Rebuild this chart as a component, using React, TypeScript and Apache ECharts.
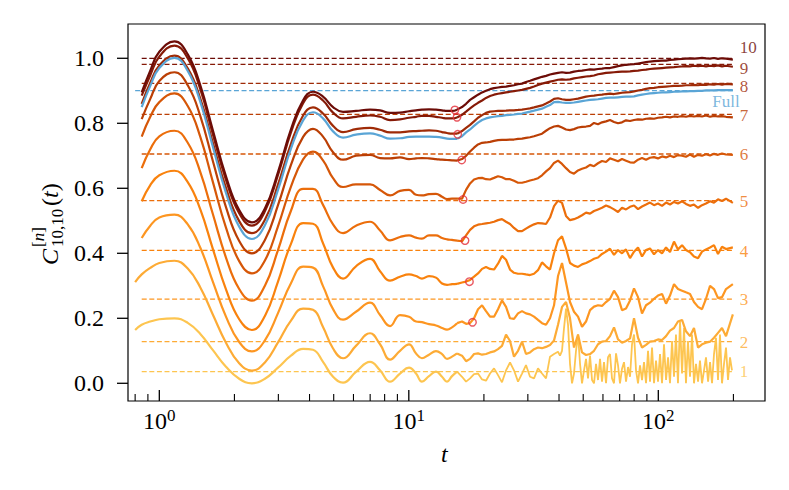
import React, { useEffect, useRef } from 'react';
import * as echarts from 'echarts';

// shared time grid (t)
const T = [
  0.8, 0.85, 0.92, 1.0, 1.15, 1.3, 1.46, 1.64, 1.85, 2.09, 2.35, 2.65, 2.99, 3.37, 3.77, 4.13, 4.53, 4.97, 5.45,
  6.14, 6.99, 7.67, 8.41, 9.22, 10.02, 10.69, 11.29, 12.05, 12.85, 13.59, 14.23, 14.9, 15.61,
  16.34, 16.96, 17.6, 18.26, 18.94, 19.66, 20.39, 21.16, 21.96, 22.78, 23.63, 24.53, 25.45, 26.4, 27.4, 28.43,
  29.49, 30.61, 31.76, 32.95, 34.19, 35.48, 36.81, 38.2, 39.63, 41.12, 42.67, 44.27, 45.93, 47.67, 49.46, 51.32,
  53.25, 55.25, 57.33, 59.48, 61.72, 64.04, 66.45, 68.95, 71.54, 74.23, 77.03, 79.92, 82.93, 86.05, 89.29, 92.62,
  96.12, 99.7, 103.5, 107.4, 111.4, 115.6, 119.9, 124.5, 129.1, 134.0, 139.0, 144.3, 149.7, 155.3, 161.2, 167.2,
  173.5, 180.0, 186.8, 199,
];
const SPLIT_INDEX = 32; // last point of the smooth early part

// curve 1 is very noisy at late times: finer grid there
const T1_DENSE = [
  40.36, 41.12, 41.89, 42.67, 43.47, 44.27, 45.1, 45.93, 46.79, 47.67,
  48.56, 49.46, 50.38, 51.32, 52.28, 53.25, 54.25, 55.25, 56.28, 57.33,
  58.4, 59.48, 60.59, 61.72, 62.87, 64.04, 65.23, 66.45, 67.69, 68.95,
  70.23, 71.54, 72.87, 74.23, 75.62, 77.03, 78.46, 79.92, 81.41, 82.93,
  84.47, 86.05, 87.65, 89.29, 90.95, 92.64, 94.37, 96.12, 97.9, 99.72,
  101.6, 103.5, 105.4, 107.4, 109.4, 111.4, 113.5, 115.6, 117.7, 119.9,
  122.2, 124.5, 126.8, 129.1, 131.5, 134.0, 136.5, 139.0, 141.6, 144.3,
  146.9, 149.7, 152.5, 155.3, 158.3, 161.2, 164.2, 167.2, 170.3, 173.5,
  176.7, 180.0, 183.4, 186.8, 190.3, 193.8, 197.4,
];
const C1_DENSE = [
  0.085, 0.1, 0.17, 0.23, 0.18, 0.06, 0.0, 0.03, 0.1, 0.15,
  0.06, 0.0, 0.04, 0.075, 0.015, 0.085, 0.01, 0.0, 0.06, 0.01,
  0.075, 0.005, 0.065, 0.0, 0.08, 0.09, 0.015, 0.0, 0.092, 0.055,
  0.0, 0.045, 0.065, 0.005, 0.05, 0.02, 0.12, 0.15, 0.04, 0.0,
  0.055, 0.01, 0.065, 0.0, 0.1, 0.005, 0.11, 0.0, 0.07, 0.005,
  0.09, 0.0, 0.12, 0.01, 0.08, 0.0, 0.13, 0.02, 0.15, 0.0,
  0.19, 0.03, 0.17, 0.0, 0.13, 0.02, 0.15, 0.0, 0.06, 0.005,
  0.07, 0.0, 0.04, 0.08, 0.005, 0.065, 0.0, 0.09, 0.14, 0.01,
  0.15, 0.0, 0.06, 0.11, 0.01, 0.08, 0.04,
];

const C1 = [
  0.164, 0.18, 0.19, 0.197, 0.2, 0.186, 0.152, 0.102, 0.051, 0.014, 0.0, 0.014, 0.048, 0.085, 0.106, 0.103, 0.066, 0.02, 0.002,
  0.035, 0.066, 0.04, 0.005, 0.03, 0.048, 0.03, 0.005, 0.022, 0.036, 0.02, 0.005, 0.022, 0.036,
  0.02, 0.005, 0.015, 0.028, 0.03, 0.012, 0.008, 0.03, 0.046, 0.025, 0.003, 0.04, 0.064, 0.04, 0.005, 0.03,
  0.056, 0.02, 0.015, 0.046, 0.03, 0.015, 0.082, 0.09, 0.097,
];
const C2 = [
  0.311, 0.335, 0.355, 0.37, 0.377, 0.353, 0.295, 0.211, 0.125, 0.062, 0.039, 0.064, 0.126, 0.193, 0.23, 0.226, 0.173, 0.107, 0.077,
  0.115, 0.154, 0.12, 0.073, 0.1, 0.12, 0.092, 0.077, 0.088, 0.099, 0.09, 0.075, 0.082, 0.092,
  0.085, 0.068, 0.075, 0.09, 0.092, 0.088, 0.09, 0.095, 0.098, 0.105, 0.115, 0.15, 0.13, 0.082, 0.1, 0.128,
  0.09, 0.095, 0.105, 0.11, 0.108, 0.112, 0.118, 0.132, 0.18, 0.235, 0.25, 0.2, 0.11, 0.15, 0.095, 0.087,
  0.09, 0.1, 0.12, 0.128, 0.13, 0.145, 0.172, 0.135, 0.125, 0.13, 0.138, 0.2, 0.14, 0.11, 0.118, 0.128,
  0.13, 0.135, 0.133, 0.145, 0.162, 0.17, 0.19, 0.195, 0.16, 0.145, 0.17, 0.11, 0.12, 0.125, 0.128, 0.14,
  0.155, 0.17, 0.145, 0.212,
];
const C3 = [
  null, 0.447, 0.485, 0.51, 0.519, 0.489, 0.417, 0.312, 0.205, 0.127, 0.098, 0.132, 0.216, 0.308, 0.359, 0.356, 0.299, 0.228, 0.196,
  0.22, 0.248, 0.21, 0.176, 0.21, 0.205, 0.19, 0.188, 0.182, 0.178, 0.17, 0.165, 0.172, 0.185,
  0.19, 0.183, 0.185, 0.2, 0.228, 0.24, 0.222, 0.205, 0.205, 0.228, 0.255, 0.235, 0.2, 0.198, 0.215, 0.222,
  0.215, 0.212, 0.205, 0.195, 0.185, 0.18, 0.2, 0.24, 0.33, 0.37, 0.31, 0.25, 0.22, 0.205, 0.174, 0.19,
  0.225, 0.236, 0.24, 0.238, 0.25, 0.26, 0.285, 0.265, 0.225, 0.23, 0.255, 0.292, 0.265, 0.215, 0.24, 0.248,
  0.26, 0.27, 0.275, 0.245, 0.27, 0.305, 0.29, 0.285, 0.28, 0.275, 0.25, 0.235, 0.228, 0.26, 0.3, 0.29,
  0.262, 0.265, 0.29, 0.305,
];
const C4 = [
  null, 0.56, 0.61, 0.64, 0.654, 0.619, 0.535, 0.413, 0.289, 0.197, 0.164, 0.207, 0.313, 0.429, 0.493, 0.491, 0.431, 0.356, 0.322,
  0.36, 0.383, 0.345, 0.316, 0.328, 0.335, 0.33, 0.322, 0.33, 0.325, 0.307, 0.303, 0.305, 0.306,
  0.31, 0.313, 0.318, 0.328, 0.338, 0.352, 0.358, 0.352, 0.35, 0.368, 0.392, 0.38, 0.35, 0.34, 0.337, 0.337,
  0.335, 0.333, 0.337, 0.348, 0.372, 0.36, 0.35, 0.4, 0.44, 0.452, 0.415, 0.37, 0.362, 0.358, 0.366, 0.37,
  0.376, 0.383, 0.387, 0.398, 0.405, 0.414, 0.395, 0.41, 0.4, 0.412, 0.385, 0.405, 0.418, 0.39, 0.41, 0.415,
  0.397, 0.41, 0.4, 0.418, 0.404, 0.436, 0.412, 0.425, 0.41, 0.403, 0.39, 0.385, 0.405, 0.412, 0.418, 0.425,
  0.398, 0.42, 0.413, 0.418,
];
const C5 = [
  null, 0.662, 0.72, 0.76, 0.777, 0.74, 0.65, 0.52, 0.387, 0.29, 0.254, 0.3, 0.41, 0.531, 0.598, 0.598, 0.549, 0.489, 0.462,
  0.485, 0.497, 0.47, 0.44, 0.45, 0.455, 0.448, 0.445, 0.455, 0.455, 0.447, 0.443, 0.441, 0.439,
  0.437, 0.455, 0.472, 0.483, 0.488, 0.49, 0.492, 0.494, 0.497, 0.502, 0.505, 0.497, 0.49, 0.478, 0.468, 0.468,
  0.476, 0.483, 0.489, 0.493, 0.492, 0.49, 0.51, 0.545, 0.562, 0.555, 0.515, 0.502, 0.505, 0.51, 0.517, 0.525,
  0.522, 0.53, 0.535, 0.54, 0.547, 0.542, 0.535, 0.527, 0.54, 0.535, 0.543, 0.547, 0.536, 0.544, 0.55, 0.556,
  0.548, 0.553, 0.546, 0.556, 0.55, 0.558, 0.553, 0.56, 0.552, 0.546, 0.55, 0.54, 0.548, 0.553, 0.56, 0.556,
  0.566, 0.561, 0.568, 0.555,
];
const C6 = [
  null, 0.759, 0.82, 0.865, 0.892, 0.853, 0.758, 0.619, 0.479, 0.376, 0.338, 0.378, 0.483, 0.605, 0.689, 0.713, 0.686, 0.631, 0.604,
  0.612, 0.612, 0.595, 0.578, 0.592, 0.595, 0.58, 0.578, 0.582, 0.583, 0.574, 0.567, 0.568, 0.568,
  0.568, 0.595, 0.615, 0.627, 0.631, 0.632, 0.628, 0.627, 0.632, 0.637, 0.634, 0.628, 0.628, 0.623, 0.617, 0.617,
  0.62, 0.624, 0.627, 0.631, 0.64, 0.652, 0.662, 0.678, 0.685, 0.675, 0.662, 0.65, 0.645, 0.655, 0.66, 0.664,
  0.672, 0.668, 0.677, 0.684, 0.681, 0.692, 0.688, 0.683, 0.69, 0.685, 0.68, 0.679, 0.688, 0.693, 0.688, 0.694,
  0.696, 0.692, 0.698, 0.695, 0.7, 0.696, 0.702, 0.7, 0.697, 0.704, 0.697, 0.703, 0.7, 0.705, 0.701, 0.706,
  0.703, 0.707, 0.704, 0.703,
];
const C7 = [
  null, 0.813, 0.875, 0.93, 0.957, 0.917, 0.822, 0.683, 0.542, 0.438, 0.4, 0.441, 0.548, 0.672, 0.758, 0.783, 0.759, 0.711, 0.688,
  0.7, 0.703, 0.693, 0.692, 0.695, 0.69, 0.692, 0.693, 0.692, 0.69, 0.688, 0.687, 0.686, 0.685,
  0.69, 0.7, 0.713, 0.725, 0.735, 0.74, 0.741, 0.743, 0.746, 0.748, 0.749, 0.749, 0.75, 0.75, 0.752, 0.753,
  0.755, 0.757, 0.76, 0.764, 0.768, 0.777, 0.785, 0.79, 0.792, 0.787, 0.781, 0.779, 0.782, 0.787, 0.789, 0.79,
  0.792, 0.801, 0.797, 0.803, 0.806, 0.81, 0.804, 0.8, 0.803, 0.809, 0.807, 0.81, 0.812, 0.811, 0.814, 0.815,
  0.814, 0.817, 0.818, 0.82, 0.818, 0.821, 0.82, 0.822, 0.82, 0.823, 0.821, 0.823, 0.821, 0.824, 0.82, 0.823,
  0.821, 0.822, 0.82, 0.818,
];
const C8 = [
  null, 0.86, 0.925, 0.978, 1.008, 0.969, 0.876, 0.739, 0.601, 0.499, 0.462, 0.503, 0.611, 0.737, 0.824, 0.849, 0.83, 0.792, 0.773,
  0.782, 0.786, 0.78, 0.772, 0.772, 0.775, 0.776, 0.777, 0.778, 0.777, 0.773, 0.77, 0.768, 0.768,
  0.776, 0.786, 0.795, 0.806, 0.817, 0.825, 0.832, 0.836, 0.837, 0.838, 0.838, 0.839, 0.84, 0.84, 0.841, 0.842,
  0.844, 0.846, 0.849, 0.852, 0.855, 0.861, 0.867, 0.875, 0.877, 0.874, 0.872, 0.872, 0.874, 0.876, 0.879, 0.882,
  0.884, 0.885, 0.887, 0.888, 0.89, 0.891, 0.89, 0.892, 0.894, 0.895, 0.896, 0.898, 0.901, 0.903, 0.906, 0.908,
  0.909, 0.911, 0.912, 0.913, 0.914, 0.915, 0.915, 0.916, 0.917, 0.917, 0.918, 0.917, 0.919, 0.918, 0.92, 0.919,
  0.921, 0.919, 0.921, 0.92,
];
const C9 = [
  null, 0.885, 0.948, 1.005, 1.039, 1.0, 0.905, 0.766, 0.626, 0.523, 0.485, 0.529, 0.641, 0.772, 0.862, 0.888, 0.87, 0.833, 0.815,
  0.82, 0.824, 0.82, 0.81, 0.812, 0.817, 0.82, 0.823, 0.823, 0.82, 0.817, 0.815, 0.815, 0.818,
  0.826, 0.836, 0.846, 0.855, 0.863, 0.87, 0.878, 0.884, 0.888, 0.891, 0.893, 0.895, 0.897, 0.899, 0.901, 0.903,
  0.906, 0.909, 0.913, 0.918, 0.922, 0.925, 0.928, 0.931, 0.934, 0.935, 0.934, 0.935, 0.938, 0.94, 0.942, 0.944,
  0.945, 0.947, 0.951, 0.953, 0.955, 0.956, 0.957, 0.958, 0.959, 0.959, 0.96, 0.961, 0.962, 0.964, 0.965, 0.967,
  0.968, 0.969, 0.97, 0.971, 0.972, 0.973, 0.974, 0.975, 0.976, 0.975, 0.977, 0.976, 0.977, 0.975, 0.977, 0.976,
  0.978, 0.975, 0.977, 0.974,
];
const C10 = [
  null, 0.895, 0.962, 1.02, 1.052, 1.012, 0.917, 0.778, 0.637, 0.533, 0.495, 0.538, 0.65, 0.781, 0.871, 0.897, 0.882, 0.85, 0.835,
  0.838, 0.842, 0.84, 0.832, 0.833, 0.837, 0.84, 0.842, 0.843, 0.842, 0.84, 0.838, 0.838, 0.842,
  0.85, 0.86, 0.872, 0.88, 0.888, 0.895, 0.9, 0.905, 0.908, 0.91, 0.912, 0.913, 0.915, 0.917, 0.92, 0.922,
  0.927, 0.931, 0.935, 0.939, 0.943, 0.946, 0.95, 0.953, 0.955, 0.957, 0.955, 0.956, 0.959, 0.961, 0.962, 0.964,
  0.966, 0.965, 0.967, 0.968, 0.97, 0.97, 0.973, 0.976, 0.978, 0.98, 0.981, 0.982, 0.984, 0.986, 0.988, 0.99,
  0.991, 0.992, 0.993, 0.993, 0.995, 0.996, 0.997, 0.998, 0.999, 1.0, 0.999, 1.0, 1.001, 1.0, 0.999, 1.001,
  0.998, 1.0, 0.999, 0.996,
];
const CFULL = [
  null, 0.85, 0.915, 0.97, 1.001, 0.961, 0.866, 0.727, 0.586, 0.482, 0.444, 0.486, 0.595, 0.722, 0.809, 0.834, 0.815, 0.775, 0.756,
  0.765, 0.769, 0.762, 0.753, 0.754, 0.758, 0.759, 0.759, 0.759, 0.758, 0.756, 0.753, 0.752, 0.752,
  0.76, 0.772, 0.781, 0.792, 0.802, 0.81, 0.815, 0.818, 0.82, 0.822, 0.823, 0.825, 0.826, 0.827, 0.829, 0.83,
  0.833, 0.836, 0.839, 0.842, 0.845, 0.851, 0.856, 0.865, 0.866, 0.864, 0.863, 0.863, 0.864, 0.866, 0.868, 0.87,
  0.872, 0.873, 0.874, 0.876, 0.878, 0.879, 0.879, 0.88, 0.881, 0.882, 0.882, 0.883, 0.886, 0.888, 0.89, 0.892,
  0.893, 0.894, 0.895, 0.895, 0.896, 0.897, 0.897, 0.898, 0.898, 0.899, 0.899, 0.9, 0.9, 0.901, 0.901, 0.901,
  0.902, 0.902, 0.902, 0.902,
];

const CURVE_NAMES = ['1', '2', '3', '4', '5', '6', '7', '8', '9', '10', 'Full'];
const CURVES = [C1, C2, C3, C4, C5, C6, C7, C8, C9, C10, CFULL];
const COLORS = [
  '#fdc550', '#fdab35', '#fd9621', '#f9820d', '#ec6e0b', '#d65708',
  '#bb3f05', '#9f2b07', '#861a07', '#6c0c07', '#5aa5d6',
];

// asymptotic (dashed) levels
const DASH_V = [0.0357, 0.128, 0.259, 0.409, 0.562, 0.7055, 0.8277, 0.923, 0.9815, 1.0, 0.9005];
const DASH_T0 = [0.85, 0.85, 0.85, 0.85, 0.85, 0.85, 0.85, 0.85, 0.85, 0.85, 0.8];
const DASH_T1 = 199;

// curve labels at the right
const LABEL_T = 211;
const FULL_LABEL_T = 213;
const LABEL_V = [0.035, 0.127, 0.259, 0.406, 0.558, 0.703, 0.823, 0.913, 0.969, 1.034, 0.866];

// red circle markers
const CIRCLE_T = [15.3, 15.6, 15.7, 16.3, 16.5, 16.8, 17.5, 18.0];
const CIRCLE_V = [0.841, 0.8185, 0.766, 0.687, 0.5655, 0.439, 0.3126, 0.1877];

// axes
const X_MIN = 0.749;
const X_MAX = 267.7;
const Y_MIN = -0.0545;
const Y_MAX = 1.1055;
const X_MAJOR = [1, 10, 100];
const X_MINOR = [0.8, 0.9, 2, 3, 4, 5, 6, 7, 8, 9, 20, 30, 40, 50, 60, 70, 80, 90, 200];
const Y_TICKS = [0, 0.2, 0.4, 0.6, 0.8, 1.0];

const FONT = 'Liberation Serif';

function tickSeries(data: number[][], dx: number, dy: number, w: number) {
  return {
    type: 'custom',
    silent: true,
    clip: false,
    z: 7,
    data,
    renderItem: (params: any, api: any) => {
      const p = api.coord([api.value(0), api.value(1)]);
      return {
        type: 'line',
        shape: { x1: p[0], y1: p[1], x2: p[0] + dx, y2: p[1] + dy },
        style: { stroke: '#000', lineWidth: w },
      };
    },
  };
}

export default function App() {
  const ref = useRef<HTMLDivElement>(null);

  useEffect(() => {
    document.body.style.margin = '0';
    const chart = echarts.init(ref.current as HTMLDivElement, undefined, { renderer: 'svg' });

    const series: any[] = [];

    // dashed asymptote lines
    DASH_V.forEach((v, i) => {
      series.push({
        type: 'line',
        data: [[DASH_T0[i], v], [DASH_T1, v]],
        showSymbol: false,
        symbol: 'none',
        silent: true,
        z: 1,
        lineStyle: { color: COLORS[i], width: 1.3, type: [5, 2.6] },
      });
    });

    // curves (smooth early part, raw late part)
    CURVES.forEach((vals, i) => {
      const pairs: any[] = T.map((t, k) => [t, vals[k]]);
      const ok = (p: any[]) => p[1] !== null && p[1] !== undefined;
      const early = pairs.slice(0, SPLIT_INDEX + 1).filter(ok);
      let late = pairs.slice(SPLIT_INDEX).filter(ok);
      if (i === 0) late = late.concat(T1_DENSE.map((t, k) => [t, C1_DENSE[k]]));
      const width = 2.2;
      series.push({
        type: 'line',
        data: early,
        smooth: 0.45,
        showSymbol: false,
        symbol: 'none',
        z: 3,
        lineStyle: { color: COLORS[i], width },
      });
      series.push({
        type: 'line',
        data: late,
        smooth: false,
        showSymbol: false,
        symbol: 'none',
        z: 3,
        lineStyle: { color: COLORS[i], width: i === 0 ? 1.8 : width },
      });
    });

    // red circles
    series.push({
      type: 'scatter',
      data: CIRCLE_T.map((t, i) => [t, CIRCLE_V[i]]),
      symbol: 'circle',
      symbolSize: 7.5,
      z: 5,
      itemStyle: { color: 'rgba(0,0,0,0)', borderColor: '#e3303a', borderWidth: 1.4 },
    });

    // right-hand labels
    series.push({
      type: 'scatter',
      symbolSize: 1,
      silent: true,
      z: 6,
      itemStyle: { color: 'rgba(0,0,0,0)' },
      data: LABEL_V.map((v, i) => ({
        value: [i === 10 ? FULL_LABEL_T : LABEL_T, v],
        label: {
          show: true,
          position: i === 10 ? 'left' : 'right',
          distance: 0,
          formatter: CURVE_NAMES[i],
          color: COLORS[i],
          fontFamily: FONT,
          fontSize: 17,
          lineHeight: 15,
        },
      })),
    });

    // ticks drawn through the axes' scales
    series.push(tickSeries(X_MAJOR.map((t) => [t, Y_MIN]), 0, -11, 1.3));
    series.push(tickSeries(X_MINOR.map((t) => [t, Y_MIN]), 0, -7, 1.1));
    series.push(tickSeries(Y_TICKS.map((v) => [X_MIN, v]), -11, 0, 1.3));

    const option: any = {
      animation: false,
      backgroundColor: '#fff',
      grid: {
        left: 128,
        top: 24,
        width: 637,
        height: 377,
        show: true,
        borderColor: '#000',
        borderWidth: 1.2,
        backgroundColor: 'transparent',
        containLabel: false,
      },
      xAxis: {
        type: 'log',
        logBase: 10,
        min: X_MIN,
        max: X_MAX,
        axisLine: { show: false },
        axisTick: { show: false },
        splitLine: { show: false },
        minorTick: { show: false },
        axisLabel: {
          margin: 6,
          formatter: (v: number) => {
            const l = Math.log10(v);
            const e = Math.round(l);
            if (Math.abs(l - e) > 1e-6) return '';
            return '{b|10}{s|' + e + '}';
          },
          rich: {
            b: { fontFamily: FONT, fontSize: 24, color: '#000', lineHeight: 26, verticalAlign: 'bottom' },
            s: { fontFamily: FONT, fontSize: 17, color: '#000', lineHeight: 17, verticalAlign: 'top' },
          },
        },
      },
      yAxis: {
        type: 'value',
        min: Y_MIN,
        max: Y_MAX,
        axisLine: { show: false },
        axisTick: { show: false },
        splitLine: { show: false },
        axisLabel: {
          margin: 24,
          fontFamily: FONT,
          fontSize: 24,
          color: '#000',
          formatter: (v: number) => {
            const k = v * 5;
            if (Math.abs(k - Math.round(k)) > 1e-6) return '';
            return (Math.round(k) / 5).toFixed(1);
          },
        },
      },
      graphic: [
        {
          type: 'text',
          left: 441,
          top: 442,
          style: { text: 't', fontFamily: FONT, fontStyle: 'italic', fontSize: 24, fill: '#000' },
        },
        {
          type: 'group',
          x: 50,
          y: 218,
          rotation: Math.PI / 2,
          children: [
            {
              type: 'text',
              x: -47,
              y: 0,
              style: { text: 'C', fontFamily: FONT, fontStyle: 'italic', fontSize: 24, fill: '#000', verticalAlign: 'middle', align: 'left' },
            },
            {
              type: 'text',
              x: -29,
              y: -12,
              style: {
                text: '{a|[}{i|n}{a|]}',
                verticalAlign: 'middle',
                align: 'left',
                rich: {
                  a: { fontFamily: FONT, fontSize: 17, fill: '#000' },
                  i: { fontFamily: FONT, fontSize: 17, fontStyle: 'italic', fill: '#000' },
                },
              },
            },
            {
              type: 'text',
              x: -29,
              y: 7,
              style: { text: '10,10', fontFamily: FONT, fontSize: 17, fill: '#000', verticalAlign: 'middle', align: 'left' },
            },
            {
              type: 'text',
              x: 12,
              y: 0,
              style: {
                text: '{a|(}{i|t}{a|)}',
                verticalAlign: 'middle',
                align: 'left',
                rich: {
                  a: { fontFamily: FONT, fontSize: 24, fill: '#000' },
                  i: { fontFamily: FONT, fontSize: 24, fontStyle: 'italic', fill: '#000' },
                },
              },
            },
          ],
        },
      ],
      series,
    };

    chart.setOption(option);
    return () => chart.dispose();
  }, []);

  return (
    <div
      ref={ref}
      style={{ position: 'fixed', left: 0, top: 0, width: 789, height: 490, background: '#fff' }}
    />
  );
}
